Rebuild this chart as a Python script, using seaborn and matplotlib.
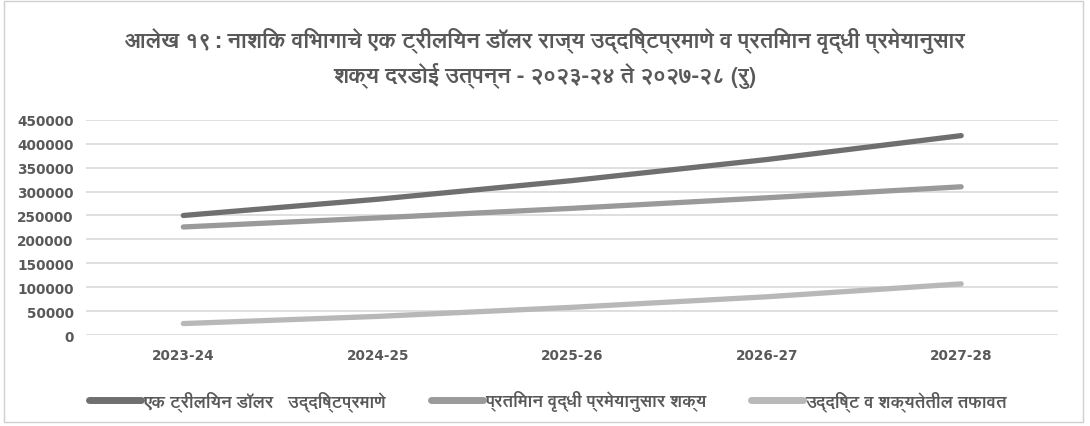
import matplotlib
matplotlib.use('Agg')
import matplotlib.pyplot as plt
from matplotlib import font_manager
import seaborn as sns
import pandas as pd

years = ['2023-24', '2024-25', '2025-26', '2026-27', '2027-28']
target = [250000, 284000, 323000, 367000, 417000]
model = [226000, 245000, 265000, 287000, 310000]
gap = [24000, 39000, 58000, 80000, 107000]

names = ['एक ट्रीलियन डॉलर   उद्दिष्टप्रमाणे', 'प्रतिमान वृद्धी प्रमेयानुसार शक्य', 'उद्दिष्ट व शक्यतेतील तफावत']
colors = ['#6f6f6f', '#9a9a9a', '#b8b8b8']
title = 'आलेख १९: नाशिक विभागाचे एक ट्रीलियन डॉलर राज्य उद्दिष्टप्रमाणे व प्रतिमान वृद्धी प्रमेयानुसार\nशक्य दरडोई उत्पन्न - २०२३-२४ ते २०२७-२८ (रु)'

df = pd.DataFrame({
    'year': years * 3,
    'value': target + model + gap,
    'series': [names[0]] * 5 + [names[1]] * 5 + [names[2]] * 5,
})

sns.set_theme(style='white')
# look for any font that can draw Devanagari
fams = []
for f in font_manager.fontManager.ttflist:
    n = f.name.lower()
    if any(k in n for k in ['devanagari', 'lohit', 'mukta', 'freesans', 'gargi', 'kalimati', 'mangal', 'hind']):
        if f.name not in fams:
            fams.append(f.name)
plt.rcParams['font.family'] = fams + ['DejaVu Sans']
txt = '#595959'

fig = plt.figure(figsize=(10.9, 4.27), dpi=100)
ax = fig.add_axes([0.079, 0.213, 0.892, 0.504])
sns.lineplot(data=df, x='year', y='value', hue='series', palette=colors,
             linewidth=3.8, sort=False, ax=ax, legend=True)

ax.set_xlim(-0.5, 4.5)
ax.set_ylim(0, 450000)
ax.set_yticks(range(0, 450001, 50000))
ax.grid(axis='y', color='#d9d9d9', linewidth=1.2)
for s in ax.spines.values():
    s.set_visible(False)
ax.tick_params(length=0, colors=txt, pad=9)
for lab in ax.get_xticklabels() + ax.get_yticklabels():
    lab.set_fontweight('bold')
    lab.set_family('DejaVu Sans')
    lab.set_fontsize(9.8)
ax.set_xlabel('')
ax.set_ylabel('')

leg = ax.legend(loc='center', bbox_to_anchor=(0.475, -0.305), ncol=3, frameon=False,
                fontsize=12.5, handlelength=3.0, handletextpad=0.1, columnspacing=2.6)
for t in leg.get_texts():
    t.set_color(txt)
    t.set_fontweight('bold')
for h in leg.get_lines():
    h.set_linewidth(5)

fig.text(0.5, 0.862, title, ha='center', va='center', fontsize=16, fontweight='bold',
         color=txt, linespacing=1.45)
fig.patches.append(plt.Rectangle((0.004, 0.01), 0.99, 0.985, transform=fig.transFigure,
                                 fill=False, edgecolor='#d0d0d0', linewidth=1))

fig.savefig('out.png', dpi=100)
